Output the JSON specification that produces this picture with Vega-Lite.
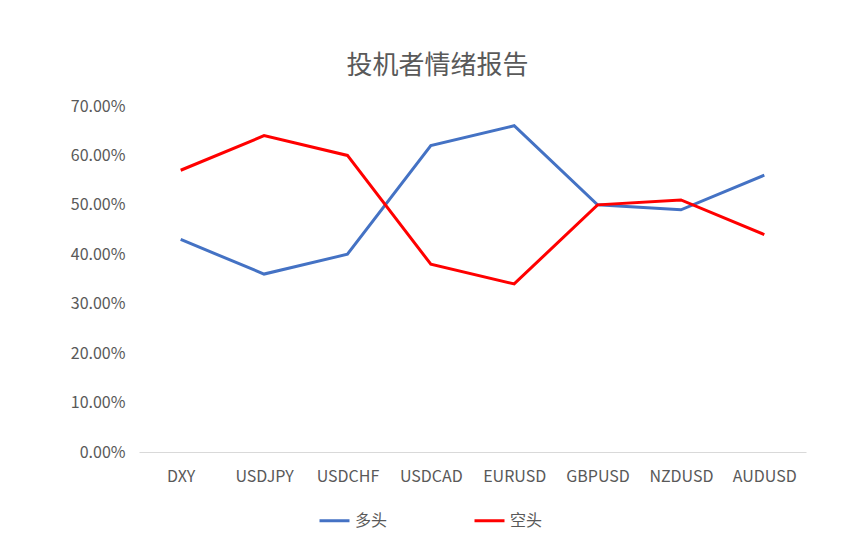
{
  "$schema": "https://vega.github.io/schema/vega-lite/v6.json",
  "width": 667,
  "height": 346,
  "autosize": {"type": "none"},
  "padding": {"left": 139, "top": 106, "right": 55, "bottom": 94},
  "background": "white",
  "title": {
    "text": "投机者情绪报告",
    "fontSize": 26,
    "fontWeight": "normal",
    "color": "#595959",
    "font": "Noto Sans CJK SC",
    "anchor": "middle",
    "dx": -35,
    "offset": 19
  },
  "data": {
    "values": [
      {"pair": "DXY", "side": "多头", "pct": 0.43},
      {"pair": "USDJPY", "side": "多头", "pct": 0.36},
      {"pair": "USDCHF", "side": "多头", "pct": 0.40},
      {"pair": "USDCAD", "side": "多头", "pct": 0.62},
      {"pair": "EURUSD", "side": "多头", "pct": 0.66},
      {"pair": "GBPUSD", "side": "多头", "pct": 0.50},
      {"pair": "NZDUSD", "side": "多头", "pct": 0.49},
      {"pair": "AUDUSD", "side": "多头", "pct": 0.56},
      {"pair": "DXY", "side": "空头", "pct": 0.57},
      {"pair": "USDJPY", "side": "空头", "pct": 0.64},
      {"pair": "USDCHF", "side": "空头", "pct": 0.60},
      {"pair": "USDCAD", "side": "空头", "pct": 0.38},
      {"pair": "EURUSD", "side": "空头", "pct": 0.34},
      {"pair": "GBPUSD", "side": "空头", "pct": 0.50},
      {"pair": "NZDUSD", "side": "空头", "pct": 0.51},
      {"pair": "AUDUSD", "side": "空头", "pct": 0.44}
    ]
  },
  "mark": {"type": "line", "strokeWidth": 3},
  "encoding": {
    "x": {
      "field": "pair",
      "type": "nominal",
      "sort": null,
      "scale": {"type": "point", "padding": 0.5},
      "axis": {
        "title": null,
        "labelAngle": 0,
        "ticks": false,
        "grid": false,
        "domainColor": "#d9d9d9",
        "domainWidth": 1,
        "labelPadding": 16,
        "labelFontSize": 16,
        "labelColor": "#595959",
        "labelFont": "Noto Sans CJK SC"
      }
    },
    "y": {
      "field": "pct",
      "type": "quantitative",
      "scale": {"domain": [0, 0.7], "nice": false},
      "axis": {
        "title": null,
        "format": ".2%",
        "values": [0, 0.1, 0.2, 0.3, 0.4, 0.5, 0.6, 0.7],
        "domain": false,
        "ticks": false,
        "grid": false,
        "labelPadding": 14,
        "labelFontSize": 16,
        "labelColor": "#595959",
        "labelFont": "Noto Sans CJK SC"
      }
    },
    "color": {
      "field": "side",
      "type": "nominal",
      "scale": {"domain": ["多头", "空头"], "range": ["#4472C4", "#FF0000"]},
      "legend": {
        "title": null,
        "orient": "none",
        "direction": "horizontal",
        "legendX": 179,
        "legendY": 398,
        "symbolType": "stroke",
        "symbolSize": 900,
        "symbolStrokeWidth": 3,
        "labelFontSize": 16,
        "labelColor": "#595959",
        "labelFont": "Noto Sans CJK SC",
        "labelOffset": 4,
        "columnPadding": 80
      }
    }
  },
  "config": {"view": {"stroke": null}}
}
